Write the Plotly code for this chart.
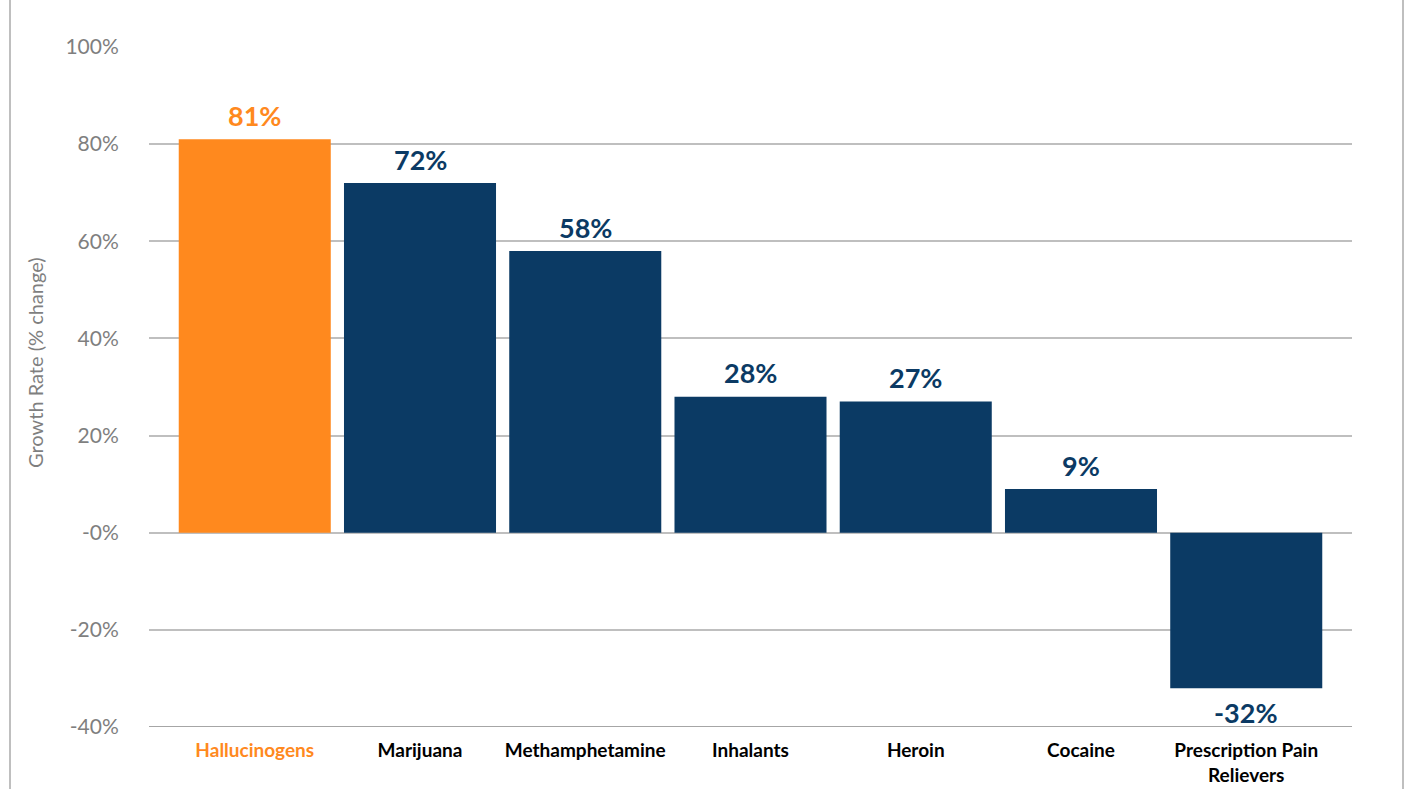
import plotly.graph_objects as go

categories = ["Hallucinogens", "Marijuana", "Methamphetamine", "Inhalants", "Heroin", "Cocaine", "Prescription Pain<br>Relievers"]
values = [81, 72, 58, 28, 27, 9, -32]
labels = ["81%", "72%", "58%", "28%", "27%", "9%", "-32%"]
tick_vals = [-40, -20, 0, 20, 40, 60, 80, 100]
tick_text = ["-40%", "-20%", "-0%", "20%", "40%", "60%", "80%", "100%"]

ORANGE = "#FF891E"
NAVY = "#0B3A64"
colors = [ORANGE] + [NAVY] * 6
cat_text = ["<span style='color:%s'>Hallucinogens</span>" % ORANGE] + categories[1:]

W, H = 1409, 789
PL, PR, PT, PB = 149, 1352, 47, 727  # plot area in page coords
L, T, R, B = PL, PT, W - PR, H - PB
pw, ph = W - L - R, H - T - B

def px(xp):  # page x -> paper
    return (xp - L) / pw

def py(yp):  # page y -> paper
    return (H - T - yp) / ph

xs = list(range(len(categories)))

fig = go.Figure(go.Bar(
    x=xs, y=values,
    marker=dict(color=colors, line=dict(width=0)),
    width=0.92,
))

annotations = [dict(
    text="Growth Rate (% change)", textangle=-90,
    xref="paper", yref="paper", xanchor="center", yanchor="middle",
    x=px(35), y=py(378),
    showarrow=False, font=dict(family="Lato", size=20, color="#7F7F7F"),
)]
for x, v, lab, c in zip(xs, values, labels, colors):
    annotations.append(dict(
        x=x, y=v, xref="x", yref="y", text=lab, showarrow=False,
        yanchor="middle", yshift=24 if v >= 0 else -24,
        font=dict(family="Lato", size=27, color=c, weight="bold"),
    ))

fig.update_layout(
    width=W, height=H,
    margin=dict(l=L, r=R, t=T, b=B, autoexpand=False),
    plot_bgcolor="white", paper_bgcolor="white",
    showlegend=False,
    font=dict(family="Lato"),
    xaxis=dict(
        tickvals=xs, ticktext=cat_text, automargin=False,
        range=[-0.64, 6.64], showgrid=False, zeroline=False, showline=False,
        tickfont=dict(family="Lato", size=19, color="black", weight="bold"),
        ticks="outside", ticklen=6, tickcolor="rgba(0,0,0,0)",
    ),
    yaxis=dict(
        range=[-40, 100], tickvals=tick_vals, ticktext=tick_text, automargin=False,
        showgrid=True, gridcolor="#BFBFBF", gridwidth=2,
        zeroline=True, zerolinecolor="#BFBFBF", zerolinewidth=2,
        showline=False,
        tickfont=dict(family="Lato", size=21, color="#7F7F7F"),
        ticks="outside", ticklen=25, tickcolor="rgba(0,0,0,0)",
    ),
    annotations=annotations,
    shapes=[
        dict(type="line", xref="paper", yref="y", x0=0, x1=1, y0=-40, y1=-40,
             line=dict(color="#A6A6A6", width=2)),
        dict(type="rect", xref="paper", yref="paper", layer="above",
             x0=px(10), x1=px(1403), y0=py(820), y1=py(8),
             line=dict(color="#BFBFBF", width=2), fillcolor="rgba(0,0,0,0)"),
    ],
)

fig.write_html(
    "out.html",
    config={"displayModeBar": False},
    post_script="document.body.style.margin='0';document.body.style.overflow='hidden';",
)
